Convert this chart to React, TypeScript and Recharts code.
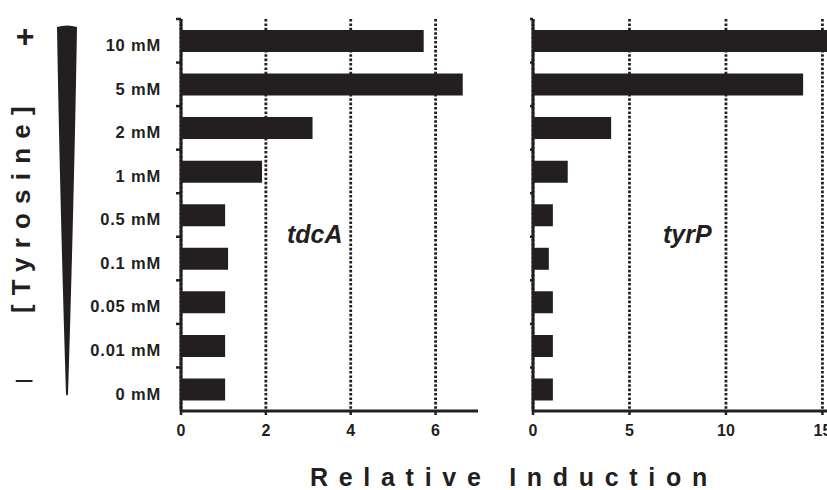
import React from "react";
import { BarChart, Bar, XAxis, YAxis, CartesianGrid } from "recharts";

const concentrations = [
  "10 mM",
  "5 mM",
  "2 mM",
  "1 mM",
  "0.5 mM",
  "0.1 mM",
  "0.05 mM",
  "0.01 mM",
  "0 mM",
];
const tdcA = [5.72, 6.64, 3.1, 1.91, 1.04, 1.11, 1.04, 1.04, 1.04];
const tyrP = [15.6, 14.0, 4.05, 1.8, 1.03, 0.82, 1.03, 1.03, 1.03];
const tdcATicks = [0, 2, 4, 6];
const tyrPTicks = [0, 5, 10, 15];

const INK = "#231f20";
const FONT = "'Liberation Sans', Arial, Helvetica, sans-serif";

const tdcAData = concentrations.map((c, i) => ({ conc: c, value: tdcA[i] }));
const tyrPData = concentrations.map((c, i) => ({ conc: c, value: tyrP[i] }));

// category ticks sit on band boundaries, labels slightly below band centre
function makeTick(showLabel: boolean, len: number) {
  return (props: any) => {
    const { x, y, payload, height, visibleTicksCount } = props;
    const band = Number(height) / Number(visibleTicksCount);
    const top = y - band / 2;
    return (
      <g>
        <line x1={x - len} x2={x} y1={top} y2={top} stroke={INK} strokeWidth={2.5} />
        {showLabel && (
          <text
            x={x - 20}
            y={y + 4.5}
            dy="0.355em"
            textAnchor="end"
            fontSize={16.5}
            fontWeight="bold"
            letterSpacing={0.8}
            fill={INK}
            fontFamily={FONT}
          >
            {payload.value}
          </text>
        )}
      </g>
    );
  };
}

// thick dotted grid lines
const dottedLine = (p: any) => (
  <line
    key={p.key}
    x1={p.x1}
    y1={p.y1}
    x2={p.x2}
    y2={p.y2}
    stroke={INK}
    strokeWidth={2.8}
    strokeDasharray="2.6 1.8"
  />
);

const xTick = { fontSize: 16, fontWeight: "bold", fill: INK, fontFamily: FONT };

export default function App() {
  return (
    <div
      style={{
        position: "fixed",
        left: 0,
        top: 0,
        width: 827,
        height: 490,
        overflow: "hidden",
        background: "#fff",
        fontFamily: FONT,
      }}
    >
      <div style={{ position: "absolute", left: 0, top: 0 }}>
        <BarChart
          layout="vertical"
          width={478}
          height={490}
          data={tdcAData}
          margin={{ top: 19, right: 0, bottom: 49, left: 0 }}
        >
          <CartesianGrid horizontal={false} syncWithTicks vertical={dottedLine} />
          <XAxis
            type="number"
            domain={[0, 7]}
            ticks={tdcATicks}
            height={30}
            tick={xTick}
            tickSize={4}
            tickMargin={10}
            axisLine={{ stroke: INK, strokeWidth: 3 }}
            tickLine={{ stroke: INK, strokeWidth: 2.5 }}
          />
          <YAxis
            type="category"
            dataKey="conc"
            width={181}
            tickSize={0}
            tickMargin={0}
            tickLine={false}
            axisLine={{ stroke: INK, strokeWidth: 3 }}
            tick={makeTick(true, 5)}
            interval={0}
          />
          <Bar dataKey="value" fill={INK} barSize={22} isAnimationActive={false} />
        </BarChart>
      </div>

      <div style={{ position: "absolute", left: 480, top: 0 }}>
        <BarChart
          layout="vertical"
          width={354}
          height={490}
          data={tyrPData}
          margin={{ top: 19, right: 0, bottom: 49, left: 0 }}
        >
          <CartesianGrid horizontal={false} syncWithTicks vertical={dottedLine} />
          <XAxis
            type="number"
            domain={[0, "dataMax"]}
            ticks={tyrPTicks}
            height={30}
            tick={xTick}
            tickSize={4}
            tickMargin={10}
            axisLine={{ stroke: INK, strokeWidth: 3 }}
            tickLine={{ stroke: INK, strokeWidth: 2.5 }}
          />
          <YAxis
            type="category"
            dataKey="conc"
            width={53}
            tickSize={0}
            tickMargin={0}
            tickLine={false}
            axisLine={{ stroke: INK, strokeWidth: 3 }}
            tick={makeTick(false, 3)}
            interval={0}
          />
          <Bar dataKey="value" fill={INK} barSize={22} isAnimationActive={false} />
        </BarChart>
      </div>

      <svg
        width={827}
        height={490}
        style={{ position: "absolute", left: 0, top: 0, pointerEvents: "none" }}
        fontFamily={FONT}
      >
        <path
          d="M57,27 Q67,24 77,27 C75,150 71,300 68,394 Q67,397 66,394 C63,300 59,150 57,27 Z"
          fill={INK}
        />
        <text x={25} y={47} textAnchor="middle" fontSize={32} fontWeight="bold" fill={INK}>
          +
        </text>
        <text x={24} y={389} textAnchor="middle" fontSize={30} fill={INK}>
          –
        </text>
        <text
          transform="translate(30,313) rotate(-90)"
          fontSize={26}
          fontWeight="bold"
          letterSpacing={9.2}
          fill={INK}
        >
          [Tyrosine]
        </text>
        <text x={310} y={486} fontSize={25} fontWeight="bold" letterSpacing={10.7} fill={INK}>
          Relative Induction
        </text>
        <text x={287} y={243} fontSize={25} fontWeight="bold" fontStyle="italic" fill={INK}>
          tdcA
        </text>
        <text x={663} y={243} fontSize={25} fontWeight="bold" fontStyle="italic" fill={INK}>
          tyrP
        </text>
      </svg>
    </div>
  );
}
